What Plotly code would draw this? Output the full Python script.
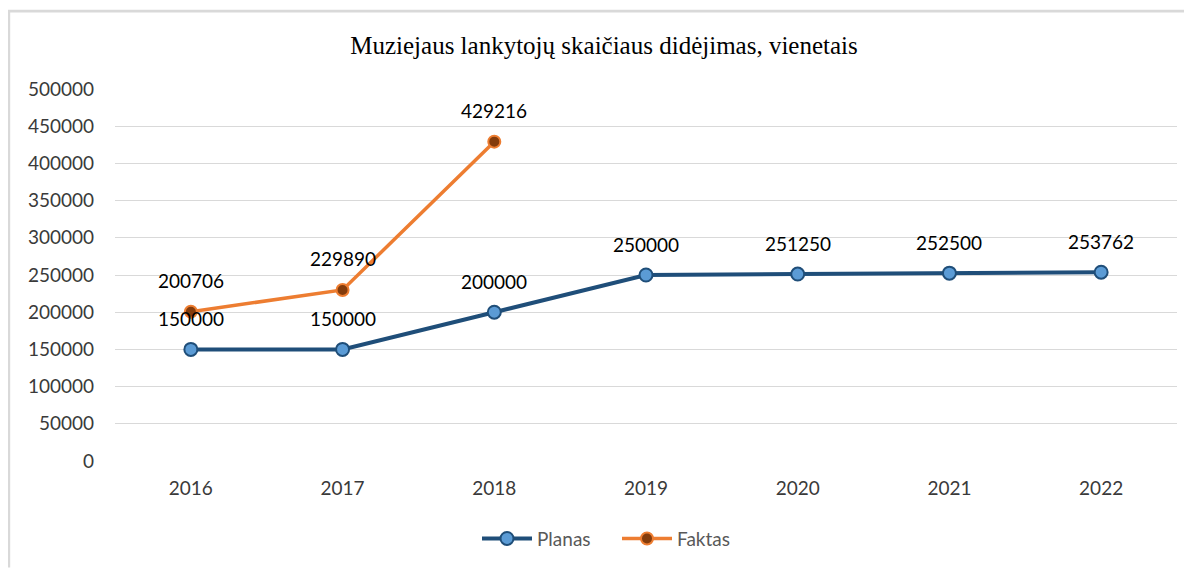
import plotly.graph_objects as go

years = ["2016", "2017", "2018", "2019", "2020", "2021", "2022"]
planas = [150000, 150000, 200000, 250000, 251250, 252500, 253762]
faktas_years = ["2016", "2017", "2018"]
faktas = [200706, 229890, 429216]
y_ticks = [0, 50000, 100000, 150000, 200000, 250000, 300000, 350000, 400000, 450000, 500000]

title = "Muziejaus lankytojų skaičiaus didėjimas, vienetais"

# page body has an 8px margin; work in reference pixel coords and subtract it
OFF = 8
FW, FH = 1192 - OFF, 570 - OFF
W0, W1, H0, H1 = 115 - OFF, 1177 - OFF, 89 - OFF, 463 - OFF


def px_x(p):
    return (p - OFF - W0) / (W1 - W0)


def px_y(p):
    return (H1 - (p - OFF)) / (H1 - H0)


fig = go.Figure()
fig.add_trace(go.Scatter(
    x=years, y=planas, name="Planas", mode="lines+markers",
    line=dict(color="#1F4E79", width=4),
    marker=dict(size=13, color="#5B9BD5", line=dict(color="#1F4E79", width=2)),
))
fig.add_trace(go.Scatter(
    x=faktas_years, y=faktas, name="Faktas", mode="lines+markers",
    line=dict(color="#ED7D31", width=3.5),
    marker=dict(size=12, color="#843C0C", line=dict(color="#ED7D31", width=2)),
))

annotations = []
for xs, ys in ((years, planas), (faktas_years, faktas)):
    for xv, yv in zip(xs, ys):
        annotations.append(dict(
            x=years.index(xv), y=yv, xref="x", yref="y", text=str(yv), showarrow=False, yshift=31,
            font=dict(family="Lato, sans-serif", size=19, color="#000000"),
        ))

fig.update_layout(
    width=FW, height=FH,
    margin=dict(l=W0, r=FW - W1, t=H0, b=FH - H1, pad=0),
    paper_bgcolor="white", plot_bgcolor="white",
    title=dict(text=title, x=px_x(604), xanchor="center", xref="paper",
               y=1 - (45 - OFF) / FH, yanchor="middle",
               font=dict(family="Liberation Serif, Times New Roman, serif", size=25, color="#000000")),
    showlegend=True,
    legend=dict(orientation="h", x=px_x(477), xanchor="left", y=px_y(541), yanchor="middle",
                font=dict(family="Lato, sans-serif", size=19, color="#595959"),
                itemwidth=50, entrywidth=75, bgcolor="rgba(0,0,0,0)"),
    annotations=annotations,
    xaxis=dict(type="category", range=[-0.5, 6.5], showgrid=False, showline=False,
               ticks="", tickfont=dict(family="Lato, sans-serif", size=19, color="#3A3A3A"),
               ticklabelstandoff=14, zeroline=False),
    yaxis=dict(range=[0, 500000], tickvals=y_ticks, ticktext=[str(v) for v in y_ticks],
               showgrid=True, gridcolor="#D9D9D9", gridwidth=1.3, zeroline=False, showline=False,
               ticks="", tickfont=dict(family="Lato, sans-serif", size=19, color="#3A3A3A"),
               ticklabelstandoff=20),
    shapes=[
        dict(type="line", xref="paper", yref="paper", x0=px_x(8), x1=px_x(1192), y0=px_y(10.7), y1=px_y(10.7),
             line=dict(color="#D9D9D9", width=2.8)),
        dict(type="line", xref="paper", yref="paper", x0=px_x(8.8), x1=px_x(8.8), y0=px_y(9.5), y1=px_y(570),
             line=dict(color="#D9D9D9", width=2.8)),
    ],
)

fig.write_html("out.html")
